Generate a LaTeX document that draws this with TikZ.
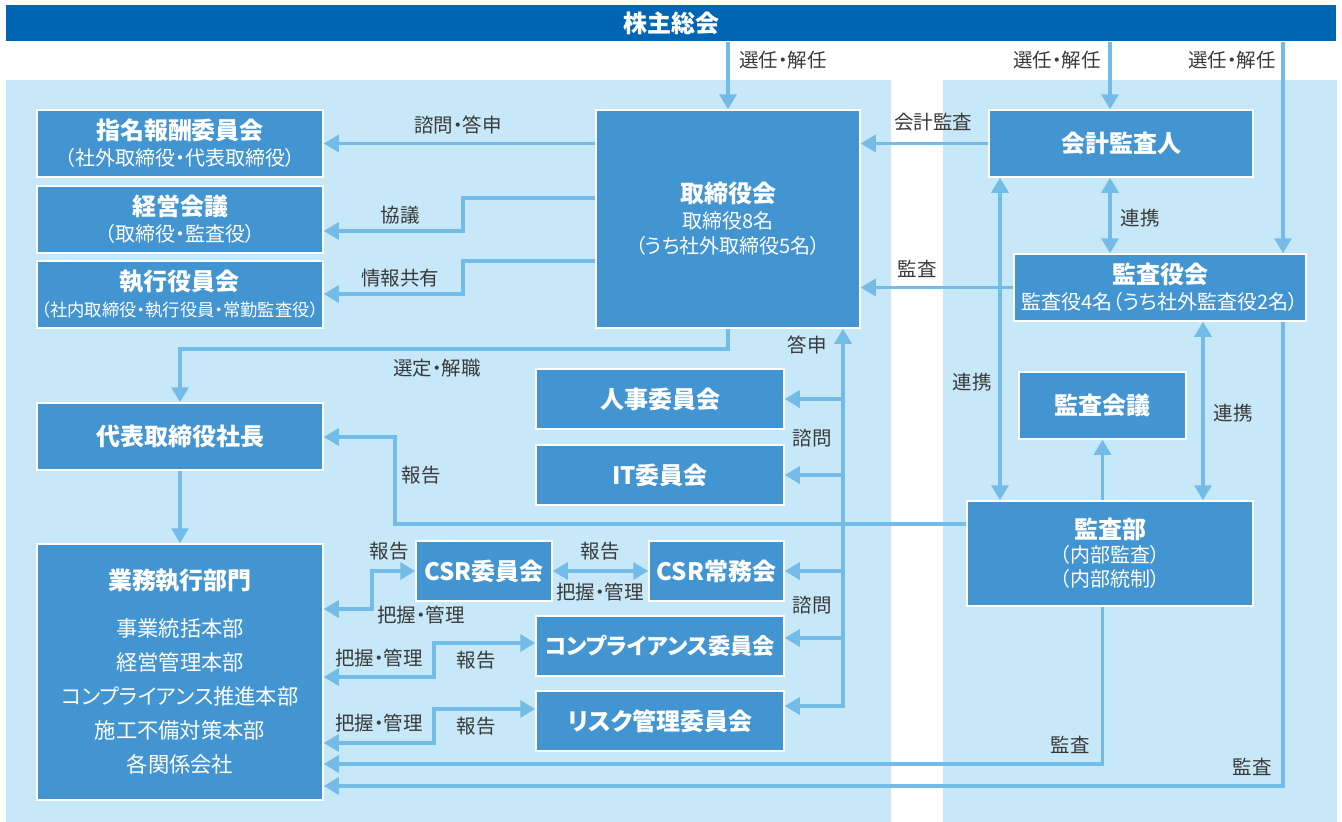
\documentclass[tikz,border=0pt]{standalone}
\usepackage{fontspec}
\setmainfont{Noto Sans CJK JP}[RawFeature=+palt]
\usetikzlibrary{positioning}
\usetikzlibrary{arrows.meta}
\definecolor{barblue}{HTML}{0066B3}
\definecolor{panelblue}{HTML}{C7E8F8}
\definecolor{boxblue}{HTML}{4395D1}
\definecolor{lineblue}{HTML}{74BCE8}
\definecolor{labelgray}{HTML}{3A3A3A}
\newcommand{\boxtitle}{\bfseries\fontsize{24}{30}\selectfont}
\newcommand{\boxsub}{\mdseries\fontsize{20}{26}\selectfont}

\begin{document}
\begin{tikzpicture}[x=1pt,y=-1pt,
  box/.style={rectangle,draw=white,line width=1.5pt,fill=boxblue,text=white,align=center,inner sep=0pt,font=\boxtitle},
  multi/.style={font=\boxsub},
  wide/.style={minimum width=286pt,minimum height=67pt},
  cmte/.style={minimum width=248pt,minimum height=60pt},
  lbl/.style={text=labelgray,inner sep=0pt,font=\fontsize{19.5}{22}\selectfont},
  conn/.style={draw=lineblue,line width=3.2pt},
  >={Triangle[width=17pt,length=15pt]}]

  \useasboundingbox (0,0) rectangle (1342,822);

  % Hintergrund
  \fill[panelblue] (6,80) rectangle (891,822);
  \fill[panelblue] (943,80) rectangle (1337,822);
  \node[box,fill=barblue,draw=none,minimum width=1330pt,minimum height=36pt] (gm) at (671,23) {株主総会};

  % linke Spalte
  \node[box,multi,wide] (shimei) at (180,143.5) {\boxtitle 指名報酬委員会\\（社外取締役・代表取締役）};
  \node[box,multi,wide] (keiei)  [below=76pt of shimei.center,anchor=center] {\boxtitle 経営会議\\（取締役・監査役）};
  \node[box,multi,wide,font=\fontsize{17.3}{26}\selectfont] (shikko) [below=75pt of keiei.center,anchor=center]
    {\boxtitle 執行役員会\\（社内取締役・執行役員・常勤監査役）};
  \node[box,wide] (ceo)    at (180,436.5) {代表取締役社長};
  \node[box,font=\fontsize{21.3}{34}\selectfont,minimum width=286pt,minimum height=256pt] (gyomu) at (180,672)
    {\boxtitle 業務執行部門\\[13pt]事業統括本部\\経営管理本部\\コンプライアンス推進本部\\施工不備対策本部\\各関係会社};

  % Mitte
  \node[box,multi,font=\fontsize{20}{25.5}\selectfont,minimum width=264pt,minimum height=218pt] (board) at (728,219)
    {\boxtitle 取締役会\\取締役8名\\（うち社外取締役5名）};
  \node[box,cmte] (jinji) at (660,399) {人事委員会};
  \node[box,cmte] (itc)   [below=76pt of jinji.center,anchor=center] {IT委員会};
  \node[box,minimum width=136pt,minimum height=60pt] (csr) at (484,571) {CSR委員会};
  \node[box,minimum width=135pt,minimum height=60pt] (csrjomu) at (716.5,571) {CSR常務会};
  \node[box,cmte,font=\bfseries\fontsize{22.3}{26}\selectfont] (comp) at (660,646) {コンプライアンス委員会};
  \node[box,cmte] (risk)  [below=75pt of comp.center,anchor=center] {リスク管理委員会};

  % rechte Spalte
  \node[box,minimum width=264pt,minimum height=67pt] (kaikei) at (1121,143.5) {会計監査人};
  \node[box,multi,minimum width=292pt,minimum height=67pt] (kansayaku) at (1160,287.5)
    {\boxtitle 監査役会\\監査役4名（うち社外監査役2名）};
  \node[box,minimum width=167pt,minimum height=67pt] (kaigi) at (1102.5,405.5) {監査会議};
  \node[box,font=\mdseries\fontsize{20}{24}\selectfont,minimum width=286pt,minimum height=105pt] (kansabu) at (1110,553.5)
    {\boxtitle 監査部\\（内部監査）\\（内部統制）};

  \coordinate (tr) at (843,0);

  % gerade Pfeile
  \draw[conn,->] (gm.south -| board.north) -- (board.north);
  \draw[conn,->] (gm.south -| 1110,0) -- (kaikei.north -| 1110,0);
  \draw[conn,->] (gm.south -| 1283,0) -- (kansayaku.north -| 1283,0);
  \draw[conn,->] (board.west |- shimei.east) -- (shimei.east);
  \draw[conn,->] (kaikei.west) -- (board.east |- kaikei.west);
  \draw[conn,->] (kansayaku.west) -- (board.east |- kansayaku.west);
  \draw[conn,->] (ceo.south) -- (gyomu.north);
  \draw[conn,->] (kansabu.north -| kaigi.south) -- (kaigi.south);
  \draw[conn,->] (jinji.east -| tr) -- (jinji.east);
  \draw[conn,->] (itc.east -| tr) -- (itc.east);
  \draw[conn,->] (csrjomu.east -| tr) -- (csrjomu.east);
  \draw[conn,->] (tr |- 0,638) -- (comp.east |- 0,638);
  \draw[conn,<->] (kaikei.south -| 1110,0) -- (kansayaku.north -| 1110,0);
  \draw[conn,<->] (kaikei.south -| 1000,0) -- (kansabu.north -| 1000,0);
  \draw[conn,<->] (kansayaku.south -| 1203,0) -- (kansabu.north -| 1203,0);
  \draw[conn,<->] (csr.east) -- (csrjomu.west);

  % geknickte Pfeile
  \draw[conn,->] (board.west |- 0,198) -| (463,231) -- (keiei.east |- 0,231);
  \draw[conn,->] (board.west |- 0,261) -| (463,294) -- (shikko.east |- 0,294);
  \draw[conn,->] (board.south) -- (728,349) -| (ceo.north);
  \draw[conn,->] (kansabu.west |- 0,524) -| (395,437) -- (ceo.east |- 0,437);
  \draw[conn,<->] (risk.east |- 0,706) -| (board.south -| tr);
  \draw[conn,<->] (gyomu.east |- 0,609) -| (372,571) -- (csr.west);
  \draw[conn,<->] (gyomu.east |- 0,677) -| (434,643) -- (comp.west |- 0,643);
  \draw[conn,<->] (gyomu.east |- 0,743) -| (434,709) -- (risk.west |- 0,709);
  \draw[conn,->] (kansabu.south -| kaigi.south) |- (gyomu.east |- 0,764);
  \draw[conn,->] (kansayaku.south -| 1283,0) |- (gyomu.east |- 0,786);

  % Beschriftungen
  \node[lbl] (lsennin1) at (783,60)   {選任・解任};
  \node[lbl] (lsennin2) at (1057,60)  {選任・解任};
  \node[lbl] (lsennin3) at (1232,60)  {選任・解任};
  \node[lbl] (lshimon1) at (458,125)  {諮問・答申};
  \node[lbl] (lkyogi)   at (400,215)  {協議};
  \node[lbl] (ljoho)    at (400,278)  {情報共有};
  \node[lbl] (lkaikei)  at (933,122)  {会計監査};
  \node[lbl] (lkansa1)  at (917,269)  {監査};
  \node[lbl] (lrenkei1) at (1140,218) {連携};
  \node[lbl] (lrenkei2) at (972,382)  {連携};
  \node[lbl] (lrenkei3) at (1233,413) {連携};
  \node[lbl] (lsentei)  at (437,368)  {選定・解職};
  \node[lbl] (ltoshin)  at (807,345)  {答申};
  \node[lbl] (lshimon2) at (812,438)  {諮問};
  \node[lbl] (lshimon3) at (812,605)  {諮問};
  \node[lbl] (lhokoku1) at (421,475)  {報告};
  \node[lbl] (lhokoku2) at (389,551)  {報告};
  \node[lbl] (lhaaku1)  at (421,615)  {把握・管理};
  \node[lbl] (lhokoku3) at (600,551)  {報告};
  \node[lbl] (lhaaku2)  at (600,592)  {把握・管理};
  \node[lbl] (lhaaku3)  at (379,658)  {把握・管理};
  \node[lbl] (lhokoku4) at (476,660)  {報告};
  \node[lbl] (lhaaku4)  at (379,723)  {把握・管理};
  \node[lbl] (lhokoku5) at (476,726)  {報告};
  \node[lbl] (lkansa2)  at (1070,745) {監査};
  \node[lbl] (lkansa3)  at (1252,767) {監査};

\end{tikzpicture}
\end{document}
